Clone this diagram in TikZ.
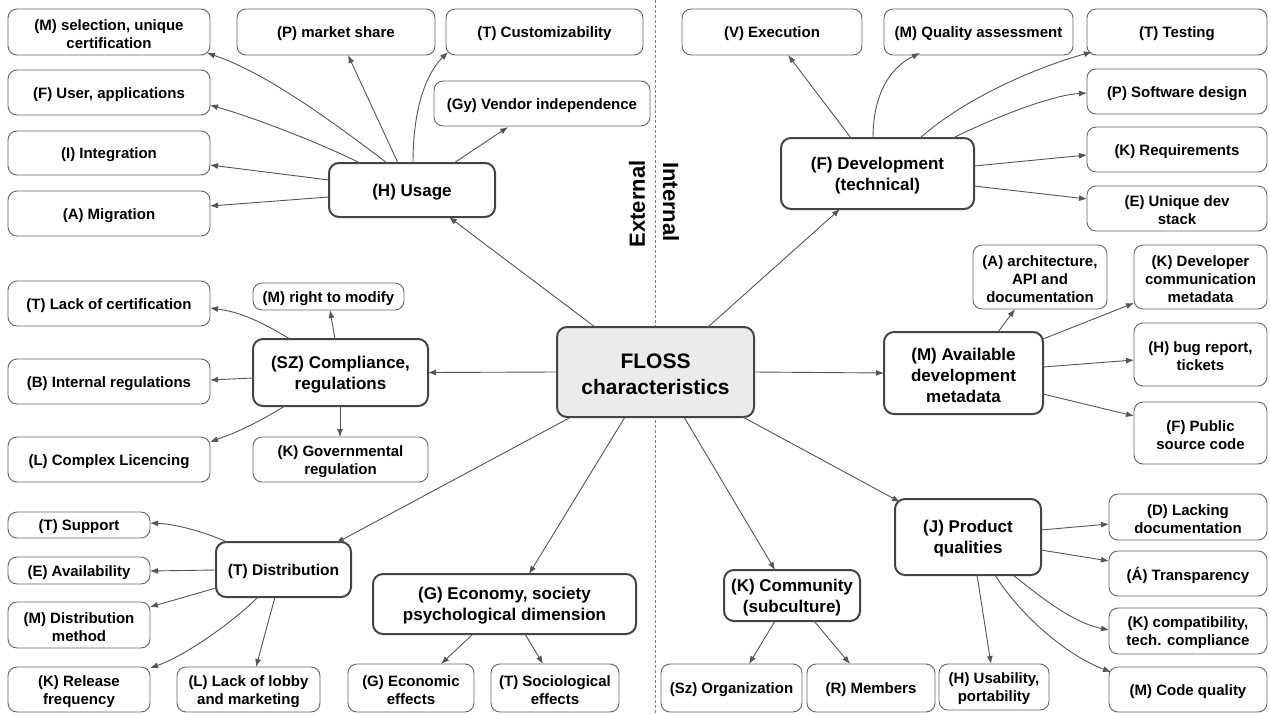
\documentclass[tikz,border=0pt]{standalone}
\usepackage{fontspec}
\setmainfont{Liberation Sans}
\usetikzlibrary{arrows.meta,calc}
\definecolor{ln}{HTML}{555555}
\definecolor{bd}{HTML}{666666}
\definecolor{bdk}{HTML}{444444}
\definecolor{cfill}{HTML}{EBEBEB}
\definecolor{dsh}{HTML}{808080}
\newcommand\fch{\bfseries\fontsize{15}{18}\selectfont}
\newcommand\fmn{\bfseries\fontsize{17}{21}\selectfont}
\newcommand\fmnsmall{\bfseries\fontsize{15.5}{19}\selectfont}
\newcommand\fbig{\bfseries\fontsize{21}{26}\selectfont}
\newcommand\flab{\bfseries\fontsize{22}{26}\selectfont}
\newcommand\bx[8]{\node[#6, minimum width={(#4-#2)*1pt}, minimum height={(#5-#3)*1pt}, label={[#7]center:{#8}}] (#1) at ({(#2+#4)/2},{(#3+#5)/2}) {};}
\begin{document}
\begin{tikzpicture}[x=1pt,y=-1pt,
  chi/.style={draw=bd, line width=0.9pt, rounded corners=9pt, fill=white, inner sep=0pt, outer sep=0pt},
  mn/.style={chi, draw=bdk, line width=2pt, rounded corners=10pt},
  cen/.style={mn, fill=cfill},
  tch/.style={font=\fch, align=center, inner sep=0pt, yshift=-2pt},
  tmn/.style={tch, font=\fmn},
  tbig/.style={tch, font=\fbig},
  arr/.style={draw=ln, line width=0.9pt, -{Latex[length=8pt,width=6pt]}},
  lab/.style={font=\flab, inner sep=0pt}]
\useasboundingbox (0,0) rectangle (1270,715);
\fill[white] (0,0) rectangle (1270,715);
\coordinate (dtop) at (655,0);
\coordinate (dbot) at (655,715);
\draw[dsh, line width=0.8pt, dash pattern=on 3pt off 2pt] (dtop) -- (dbot);
\node[lab, rotate=90] (ext) at (637,204) {External};
\node[lab, rotate=-90] (int) at (671,202) {Internal};
% main nodes
\bx{c}{557}{327}{754}{417}{cen}{tbig}{FLOSS\\characteristics}
\bx{H}{329}{163}{495}{217}{mn}{tmn}{(H) Usage}
\bx{Fd}{781}{138}{974}{209}{mn}{tmn}{(F) Development\\(technical)}
\bx{SZ}{253}{339}{428}{406}{mn}{tmn}{(SZ) Compliance,\\regulations}
\bx{MA}{884}{332}{1043}{414}{mn}{tmn}{(M) Available\\development\\metadata}
\bx{TD}{216}{542}{351}{597}{mn}{tch,font=\fmnsmall}{(T) Distribution}
\bx{GE}{373}{574}{636}{634}{mn}{tmn}{(G) Economy, society\\psychological dimension}
\bx{KC}{724}{570}{860}{621}{mn}{tmn}{(K) Community\\(subculture)}
\bx{JP}{895}{499}{1041}{575}{mn}{tmn}{(J) Product\\qualities}
% children
\bx{msel}{8}{9}{210}{55}{chi}{tch}{(M) selection, unique\\certification}
\bx{fuser}{8}{70}{210}{115}{chi}{tch}{(F) User, applications}
\bx{iint}{8}{131}{210}{175}{chi}{tch}{(I) Integration}
\bx{amig}{8}{191}{210}{236}{chi}{tch}{(A) Migration}
\bx{pmkt}{237}{9}{435}{55}{chi}{tch}{(P) market share}
\bx{tcust}{446}{9}{643}{55}{chi}{tch}{(T) Customizability}
\bx{gy}{434}{81}{650}{126}{chi}{tch}{(Gy) Vendor independence}
\bx{vexe}{682}{9}{862}{55}{chi}{tch}{(V) Execution}
\bx{mqa}{884}{9}{1073}{55}{chi}{tch}{(M) Quality assessment}
\bx{ttest}{1087}{9}{1267}{55}{chi}{tch}{(T) Testing}
\bx{psd}{1087}{69}{1267}{114}{chi}{tch}{(P) Software design}
\bx{kreq}{1087}{127}{1267}{172}{chi}{tch}{(K) Requirements}
\bx{euds}{1087}{186}{1267}{231}{chi}{tch}{(E) Unique dev\\stack}
\bx{tlc}{8}{281}{210}{326}{chi}{tch}{(T) Lack of certification}
\bx{mrm}{253}{283}{404}{310}{chi}{tch}{(M) right to modify}
\bx{bir}{8}{359}{210}{404}{chi}{tch}{(B) Internal regulations}
\bx{lcl}{8}{437}{210}{482}{chi}{tch}{(L) Complex Licencing}
\bx{kgr}{253}{437}{428}{482}{chi}{tch}{(K) Governmental\\regulation}
\bx{aapi}{973}{245}{1107}{309}{chi}{tch}{(A) architecture,\\API and\\documentation}
\bx{kdc}{1134}{245}{1267}{309}{chi}{tch}{(K) Developer\\communication\\metadata}
\bx{hbug}{1134}{323}{1267}{386}{chi}{tch}{(H) bug report,\\tickets}
\bx{fpsc}{1134}{402}{1267}{464}{chi}{tch}{(F) Public\\source code}
\bx{tsup}{8}{512}{150}{538}{chi}{tch}{(T) Support}
\bx{eav}{8}{557}{150}{584}{chi}{tch}{(E) Availability}
\bx{mdm}{8}{602}{150}{648}{chi}{tch}{(M) Distribution\\method}
\bx{krf}{8}{667}{150}{712}{chi}{tch}{(K) Release\\frequency}
\bx{llm}{177}{667}{320}{712}{chi}{tch}{(L) Lack of lobby\\and marketing}
\bx{gee}{348}{664}{474}{712}{chi}{tch}{(G) Economic\\effects}
\bx{tse}{491}{664}{619}{712}{chi}{tch}{(T) Sociological\\effects}
\bx{szo}{661}{664}{802}{712}{chi}{tch}{(Sz) Organization}
\bx{rme}{807}{664}{935}{712}{chi}{tch}{(R) Members}
\bx{hup}{939}{664}{1049}{710}{chi}{tch}{(H) Usability,\\portability}
\bx{dld}{1109}{494}{1267}{540}{chi}{tch}{(D) Lacking\\documentation}
\bx{atr}{1109}{551}{1267}{596}{chi}{tch}{(Á) Transparency}
\bx{kct}{1109}{608}{1267}{654}{chi}{tch}{(K) compatibility,\\tech. compliance}
\bx{mcq}{1109}{667}{1267}{712}{chi}{tch}{(M) Code quality}
% center edges
\draw[arr] ($(c.north west)+(38,0)$) -- ($(H.north west)+(120,54)$);
\draw[arr] ($(c.north west)+(151,0)$) -- ($(Fd.north west)+(59,71)$);
\draw[arr] (c.west) -- (SZ.east);
\draw[arr] (c.east) -- (MA.west);
\draw[arr] ($(c.north west)+(14,90)$) -- ($(TD.north west)+(120,1)$);
\draw[arr] ($(c.north west)+(68,90)$) -- ($(GE.north west)+(156,0)$);
\draw[arr] ($(c.north west)+(127,90)$) -- ($(KC.north west)+(51,0)$);
\draw[arr] ($(c.north west)+(184,89)$) -- ($(JP.north west)+(5,3)$);
% usage
\draw[arr] ($(H.north west)+(58,0)$) .. controls +(-50,-38) and +(60,20) .. ($(msel.north west)+(199,44)$);
\draw[arr] ($(H.north west)+(31,0)$) .. controls +(-40,-20) and +(45,13) .. ($(fuser.north west)+(202,35)$);
\draw[arr] ($(H.north west)+(0,17)$) -- ($(iint.north west)+(202,34)$);
\draw[arr] ($(H.north west)+(0,34)$) -- ($(amig.north west)+(202,15)$);
\draw[arr] ($(H.north west)+(69,0)$) -- ($(pmkt.north west)+(111,46)$);
\draw[arr] ($(H.north west)+(84,0)$) .. controls +(0,-55) and +(-22,22) .. ($(tcust.north west)+(2,43)$);
\draw[arr] ($(H.north west)+(125,0)$) -- ($(gy.north west)+(74,46)$);
% development
\draw[arr] ($(Fd.north west)+(70,0)$) -- ($(vexe.north west)+(106,46)$);
\draw[arr] ($(Fd.north west)+(92,0)$) .. controls +(0,-50) and +(-25,12) .. ($(mqa.north west)+(36,44)$);
\draw[arr] ($(Fd.north west)+(139,0)$) .. controls +(45,-40) and +(-55,15) .. ($(ttest.north west)+(5,43)$);
\draw[arr] ($(Fd.north west)+(172,0)$) .. controls +(40,-20) and +(-35,2) .. ($(psd.north west)+(0,24)$);
\draw[arr] ($(Fd.north west)+(193,28)$) -- ($(kreq.north west)+(0,28)$);
\draw[arr] ($(Fd.north west)+(193,48)$) -- ($(euds.north west)+(0,13)$);
% compliance
\draw[arr] ($(SZ.north west)+(37,0)$) .. controls +(-30,-18) and +(30,4) .. ($(tlc.north west)+(202,27)$);
\draw[arr] ($(SZ.north west)+(82,0)$) -- ($(mrm.north west)+(77,27)$);
\draw[arr] ($(SZ.north west)+(0,39)$) -- ($(bir.north west)+(202,21)$);
\draw[arr] ($(SZ.north west)+(32,67)$) .. controls +(-30,18) and +(30,-11) .. ($(lcl.north west)+(202,5)$);
\draw[arr] ($(SZ.north west)+(87,67)$) -- ($(kgr.north west)+(87,0)$);
% metadata
\draw[arr] ($(MA.north west)+(114,0)$) -- ($(aapi.north west)+(42,64)$);
\draw[arr] ($(MA.north west)+(159,7)$) -- ($(kdc.north west)+(0,58)$);
\draw[arr] ($(MA.north west)+(159,35)$) -- ($(hbug.north west)+(0,37)$);
\draw[arr] ($(MA.north west)+(159,62)$) -- ($(fpsc.north west)+(0,14)$);
% distribution
\draw[arr] ($(TD.north west)+(11,0)$) .. controls +(-25,-11) and +(25,1) .. ($(tsup.north west)+(142,11)$);
\draw[arr] ($(TD.north west)+(0,28)$) -- ($(eav.north west)+(142,14)$);
\draw[arr] ($(TD.north west)+(0,46)$) -- ($(mdm.north west)+(142,5)$);
\draw[arr] ($(TD.north west)+(42,55)$) .. controls +(-25,25) and +(35,-12) .. ($(krf.north west)+(142,1)$);
\draw[arr] ($(TD.north west)+(59,55)$) -- ($(llm.north west)+(79,0)$);
% economy
\draw[arr] ($(GE.north west)+(100,60)$) -- ($(gee.north west)+(93,0)$);
\draw[arr] ($(GE.north west)+(152,60)$) -- ($(tse.north west)+(52,0)$);
% community
\draw[arr] ($(KC.north west)+(51,51)$) -- ($(szo.north west)+(88,0)$);
\draw[arr] ($(KC.north west)+(90,51)$) -- ($(rme.north west)+(43,0)$);
% product
\draw[arr] ($(JP.north west)+(146,31)$) -- ($(dld.north west)+(0,30)$);
\draw[arr] ($(JP.north west)+(146,51)$) -- ($(atr.north west)+(0,10)$);
\draw[arr] ($(JP.north west)+(118,76)$) .. controls +(30,24) and +(-35,-7) .. ($(kct.north west)+(0,22)$);
\draw[arr] ($(JP.north west)+(100,76)$) .. controls +(25,40) and +(-45,-17) .. ($(mcq.north west)+(2,5)$);
\draw[arr] ($(JP.north west)+(82,76)$) -- ($(hup.north west)+(52,0)$);
\end{tikzpicture}
\end{document}
